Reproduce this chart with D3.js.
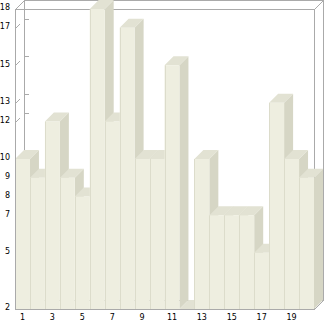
<!DOCTYPE html>
<html>
<head>
<meta charset="utf-8">
<script src="https://cdn.jsdelivr.net/npm/d3@7"></script>
<style>
  body { margin: 0; background: #fff; }
  text { font-family: "DejaVu Sans", sans-serif; font-size: 8px; fill: #000; }
</style>
</head>
<body>
<script>
// data
var categories = d3.range(1, 21);
var values = [10, 9, 12, 9, 8, 18, 12, 17, 10, 10, 15, 2, 10, 7, 7, 7, 5, 13, 10, 9];
var yTickValues = [2, 5, 7, 8, 9, 10, 12, 13, 15, 17, 18];
var xTickLabels = [1, 3, 5, 7, 9, 11, 13, 15, 17, 19];

var svgWidth = 326;
var svgHeight = 321;

// front plane and depth offset
var plot = { left: 15, right: 314, top: 9, bottom: 309 };
var depthX = 9;
var depthY = 9;

var svg = d3.select("body")
  .append("svg")
  .attr("width", svgWidth)
  .attr("height", svgHeight);

var xScale = d3.scaleBand()
  .domain(categories)
  .range([plot.left, plot.right])
  .padding(0);

var yScale = d3.scaleLinear()
  .domain([2, 18])
  .range([plot.bottom, plot.top]);

var frameColor = "#aaaaaa";

// back wall frame
var frame = svg.append("g")
  .attr("fill", "none")
  .attr("stroke", frameColor)
  .attr("stroke-width", 1);

frame.append("rect")
  .attr("x", plot.left + depthX + 0.5)
  .attr("y", yScale(18) - depthY + 0.5)
  .attr("width", plot.right - plot.left)
  .attr("height", plot.bottom - yScale(18));

// front frame
frame.append("rect")
  .attr("x", plot.left + 0.5)
  .attr("y", yScale(18) + 0.5)
  .attr("width", plot.right - plot.left)
  .attr("height", plot.bottom - yScale(18));

// corner connectors
[[plot.left, yScale(18)], [plot.right, yScale(18)], [plot.right, plot.bottom]].forEach(function(p) {
  frame.append("line")
    .attr("x1", p[0] + 0.5).attr("y1", p[1] + 0.5)
    .attr("x2", p[0] + depthX + 0.5).attr("y2", p[1] - depthY + 0.5);
});

// ticks on the back wall and slashes on the left side
yTickValues.forEach(function(v) {
  var y = Math.round(yScale(v));
  frame.append("line")
    .attr("x1", plot.left + depthX).attr("y1", y - depthY + 0.5)
    .attr("x2", plot.left + depthX + 5).attr("y2", y - depthY + 0.5);
  frame.append("line")
    .attr("x1", plot.left + 0.5).attr("y1", y + 0.5)
    .attr("x2", plot.left + 5).attr("y2", y - 4);
});

// 3d bars, drawn left to right
var bars = svg.append("g");
var w = xScale.bandwidth();
var y0 = yScale(2);

categories.forEach(function(c, i) {
  var x = xScale(c);
  var y = yScale(values[i]);
  var g = bars.append("g");

  // side
  g.append("path")
    .attr("d", `M${x + w},${y} L${x + w + depthX},${y - depthY} L${x + w + depthX},${y0 - depthY} L${x + w},${y0} Z`)
    .attr("fill", "#d6d6c5");
  // top
  g.append("path")
    .attr("d", `M${x},${y} L${x + depthX},${y - depthY} L${x + w + depthX},${y - depthY} L${x + w},${y} Z`)
    .attr("fill", "#e2e2d3");
  // front
  g.append("rect")
    .attr("x", x)
    .attr("y", y)
    .attr("width", w)
    .attr("height", y0 - y)
    .attr("fill", "#eeeee0");
  g.append("line")
    .attr("x1", Math.round(x) + 0.5).attr("y1", y)
    .attr("x2", Math.round(x) + 0.5).attr("y2", y0)
    .attr("stroke", "#dcdccb");
});

// front axis lines
svg.append("line")
  .attr("x1", plot.left + 0.5).attr("y1", yScale(18))
  .attr("x2", plot.left + 0.5).attr("y2", plot.bottom + 0.5)
  .attr("stroke", frameColor);
svg.append("line")
  .attr("x1", plot.left).attr("y1", plot.bottom + 0.5)
  .attr("x2", plot.right + 1).attr("y2", plot.bottom + 0.5)
  .attr("stroke", frameColor);

// y labels
svg.append("g")
  .selectAll("text")
  .data(yTickValues)
  .enter()
  .append("text")
  .attr("x", 10)
  .attr("y", d => yScale(d) - 1.5)
  .attr("dy", "0.35em")
  .attr("text-anchor", "end")
  .text(d => d);

// x labels
svg.append("g")
  .selectAll("text")
  .data(xTickLabels)
  .enter()
  .append("text")
  .attr("x", d => xScale(d) + w / 2)
  .attr("y", 317)
  .attr("dy", "0.35em")
  .attr("text-anchor", "middle")
  .text(d => d);
</script>
</body>
</html>
